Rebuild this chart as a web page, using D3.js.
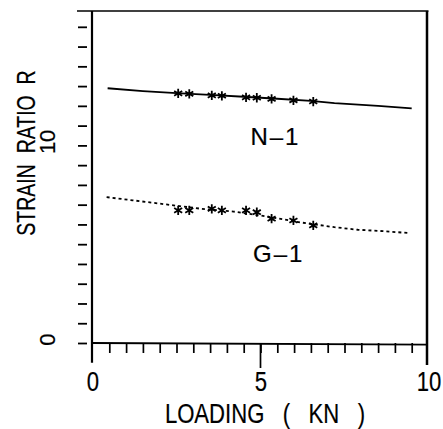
<!DOCTYPE html>
<html>
<head>
<meta charset="utf-8">
<title>Strain Ratio vs Loading</title>
<style>
  body { margin: 0; background: #fff; font-family: "Liberation Sans", Arial, sans-serif; }
  text { fill: #000; stroke: #000; stroke-width: 0.2px; }
</style>
</head>
<body>
<div id="chart-holder"></div>
<script src="https://d3js.org/d3.v7.min.js"></script>
<script>
// measured points (loading in kN)
var loads   = [2.55, 2.88, 3.55, 3.85, 4.57, 4.89, 5.33, 5.98, 6.57];
var ratioN1 = [12.63, 12.61, 12.53, 12.51, 12.43, 12.41, 12.35, 12.28, 12.22];
var ratioG1 = [6.71, 6.71, 6.79, 6.71, 6.71, 6.62, 6.29, 6.20, 5.95];

// drawn trend lines
var lineLoadsN1 = [0.45, 1.5, 2.5, 3.5, 4.5, 5.5, 6.5, 7.2, 8.5, 9.5];
var lineN1      = [12.89, 12.75, 12.64, 12.56, 12.46, 12.36, 12.25, 12.14, 12.0, 11.87];
var lineLoadsG1 = [0.42, 1.2, 2.2, 3.2, 4.2, 5.2, 6.2, 7.2, 7.9, 8.65, 9.45];
var lineG1      = [7.38, 7.22, 7.01, 6.80, 6.65, 6.40, 6.10, 5.86, 5.73, 5.66, 5.56];

// axis ticks
var xTicks  = [0.5, 1, 1.5, 2, 2.5, 3, 3.5, 4, 4.5, 5, 5.5, 6, 6.5, 7, 7.5, 8, 8.5, 9, 9.5];
var xLabels = [0, 5, 10];
var yTicks  = [0, 1, 2, 3, 4, 5, 6, 7, 8, 9, 10, 11, 12, 13, 14, 15, 16];
var yLabels = [0, 10];

var width = 443;
var height = 429;

var svg = d3.select('#chart-holder')
    .append('svg')
    .attr('width', width)
    .attr('height', height);

var x = d3.scaleLinear().domain([0, 10]).range([92.5, 428.5]);
var y = d3.scaleLinear().domain([0, 16.8]).range([343, 11]);

// frame
svg.append('line')
    .attr('x1', 77).attr('x2', x(10))
    .attr('y1', y(16.8)).attr('y2', y(16.8))
    .attr('stroke', '#000').attr('stroke-width', 1.6);
svg.append('line')
    .attr('x1', 427).attr('x2', 427)
    .attr('y1', y(16.8)).attr('y2', 365)
    .attr('stroke', '#000').attr('stroke-width', 2.5);
svg.append('line')
    .attr('x1', 92).attr('x2', 92)
    .attr('y1', y(16.8)).attr('y2', y(-1))
    .attr('stroke', '#000').attr('stroke-width', 2.2);
svg.append('line')
    .attr('x1', x(0)).attr('x2', x(9.95))
    .attr('y1', y(0)).attr('y2', y(-0.08))
    .attr('stroke', '#000').attr('stroke-width', 1.8);

// y axis ticks + labels
var yAxis = d3.axisLeft(y)
    .tickValues(yTicks)
    .tickSize(9)
    .tickFormat(function(d) { return yLabels.indexOf(d) >= 0 ? d : ''; });

var gy = svg.append('g')
    .attr('transform', 'translate(87,0)')
    .call(yAxis);
gy.select('.domain').remove();
gy.selectAll('.tick line').attr('stroke', '#000').attr('stroke-width', 1.8);
gy.selectAll('.tick text')
    .attr('x', 0).attr('y', 0).attr('dy', 0)
    .attr('transform', 'translate(-32,-4) rotate(-90)')
    .attr('text-anchor', 'middle')
    .style('font-size', '22px')
    .style('font-family', '"Liberation Sans", Arial, sans-serif')
    .attr('fill', '#000');

// x axis ticks
var gx = svg.append('g')
    .attr('transform', 'translate(0,' + y(0) + ')')
    .call(d3.axisBottom(x).tickValues(xTicks).tickSize(10).tickFormat(''));
gx.select('.domain').remove();
gx.selectAll('.tick line').attr('stroke', '#000').attr('stroke-width', 1.7);
svg.append('line')
    .attr('x1', x(5)).attr('x2', x(5))
    .attr('y1', y(0)).attr('y2', 368)
    .attr('stroke', '#000').attr('stroke-width', 1.7);

// x tick labels
var gxl = svg.append('g')
    .attr('transform', 'translate(0,391)')
    .call(d3.axisBottom(x).tickValues(xLabels).tickSize(0).tickFormat(d3.format('d')));
gxl.select('.domain').remove();
gxl.selectAll('.tick text')
    .attr('y', 0).attr('dy', 0)
    .attr('transform', 'scale(0.79,1)')
    .style('font-size', '28px')
    .style('font-family', '"Liberation Sans", Arial, sans-serif')
    .attr('fill', '#000');

// axis titles
svg.append('text')
    .attr('transform', 'translate(265,423) scale(0.79,1)')
    .attr('text-anchor', 'middle')
    .style('font-size', '28px')
    .style('white-space', 'pre')
    .text('LOADING   (   KN   )');

svg.append('text')
    .attr('transform', 'translate(35,153) rotate(-90) scale(0.78,1)')
    .attr('text-anchor', 'middle')
    .style('font-size', '25px')
    .style('white-space', 'pre')
    .text('STRAIN  RATIO  R');

// trend lines
var line = d3.line()
    .x(function(d) { return x(d[0]); })
    .y(function(d) { return y(d[1]); });

svg.append('path')
    .datum(d3.zip(lineLoadsN1, lineN1))
    .attr('d', line)
    .attr('fill', 'none')
    .attr('stroke', '#000')
    .attr('stroke-width', 1.8);

svg.append('path')
    .datum(d3.zip(lineLoadsG1, lineG1))
    .attr('d', line)
    .attr('fill', 'none')
    .attr('stroke', '#000')
    .attr('stroke-width', 1.8)
    .attr('stroke-dasharray', '3,3');

// markers
var star = d3.symbol().type(d3.symbolAsterisk).size(60);

svg.selectAll('.mark-n1')
    .data(d3.zip(loads, ratioN1))
    .enter()
    .append('path')
    .attr('class', 'mark-n1')
    .attr('transform', function(d) { return 'translate(' + x(d[0]) + ',' + y(d[1]) + ')'; })
    .attr('d', star)
    .attr('fill', 'none')
    .attr('stroke', '#000')
    .attr('stroke-width', 1.8);

svg.selectAll('.mark-g1')
    .data(d3.zip(loads, ratioG1))
    .enter()
    .append('path')
    .attr('class', 'mark-g1')
    .attr('transform', function(d) { return 'translate(' + x(d[0]) + ',' + y(d[1]) + ')'; })
    .attr('d', star)
    .attr('fill', 'none')
    .attr('stroke', '#000')
    .attr('stroke-width', 1.8);

// series labels
svg.append('text')
    .attr('x', x(4.7)).attr('y', y(10))
    .style('font-size', '24px')
    .style('letter-spacing', '2px')
    .text('N–1');

svg.append('text')
    .attr('x', x(4.78)).attr('y', y(4.1))
    .style('font-size', '24px')
    .style('letter-spacing', '2px')
    .text('G–1');
</script>
</body>
</html>
